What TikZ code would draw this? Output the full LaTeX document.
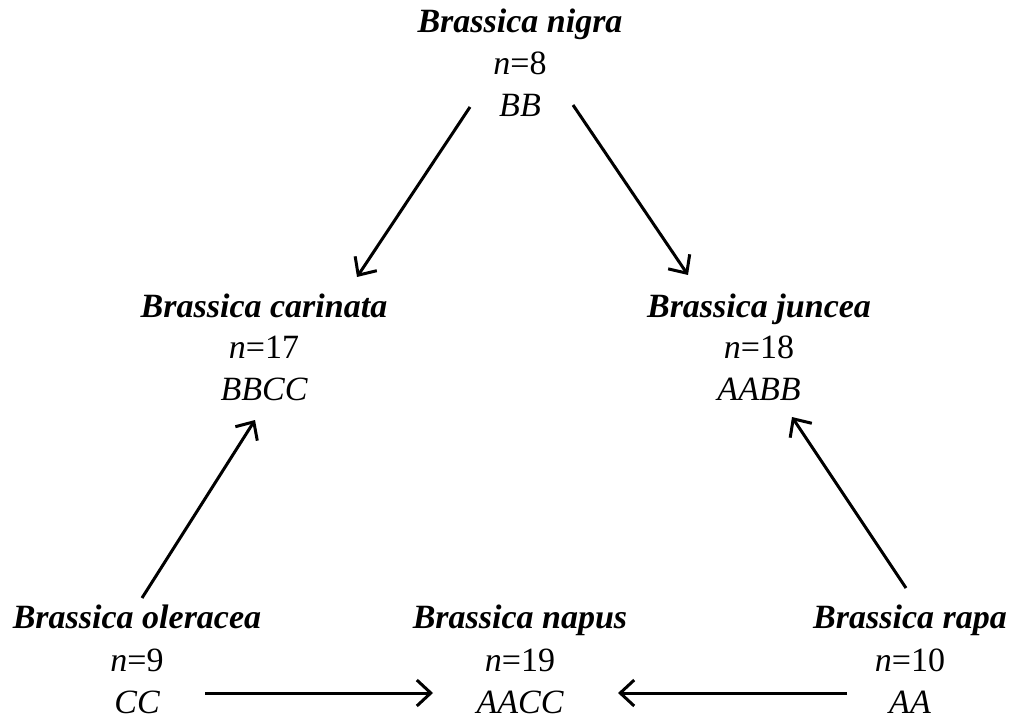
\documentclass[tikz,border=0pt]{standalone}
\usepackage{fontspec}
\setmainfont{Liberation Serif}
\usetikzlibrary{arrows.meta}
\tikzset{
  lbl/.style={inner sep=0pt, anchor=base, font=\fontsize{17}{20}\selectfont},
  ttl/.style={lbl, font=\fontsize{17}{20}\selectfont\bfseries\itshape},
  gen/.style={lbl, font=\fontsize{17}{20}\selectfont\itshape},
  arr/.style={line width=1.5pt, -{Straight Barb[length=7pt,width=13pt,line width=1.5pt]}}
}
\begin{document}
\begin{tikzpicture}[x=0.5pt,y=-0.5pt]
\useasboundingbox (0,0) rectangle (1015,721);
% top
\node[ttl] (nigra) at (520,33) {Brassica nigra};
\node[lbl] (nigraN) at (520,75) {\textit{n}=8};
\node[gen] (nigraG) at (520,117) {BB};
% middle
\node[ttl] (carinata) at (264,317) {Brassica carinata};
\node[lbl] (carinataN) at (264,358) {\textit{n}=17};
\node[gen] (carinataG) at (264,400) {BBCC};
\node[ttl] (juncea) at (759,317) {Brassica juncea};
\node[lbl] (junceaN) at (759,358) {\textit{n}=18};
\node[gen] (junceaG) at (759,400) {AABB};
% bottom
\node[ttl] (oleracea) at (137,628) {Brassica oleracea};
\node[lbl] (oleraceaN) at (137,671) {\textit{n}=9};
\node[gen] (oleraceaG) at (137,713) {CC};
\node[ttl] (napus) at (520,628) {Brassica napus};
\node[lbl] (napusN) at (520,671) {\textit{n}=19};
\node[gen] (napusG) at (520,713) {AACC};
\node[ttl] (rapa) at (910,628) {Brassica rapa};
\node[lbl] (rapaN) at (910,671) {\textit{n}=10};
\node[gen] (rapaG) at (910,713) {AA};
% arrows
\draw[arr] ([shift={(-50,-10)}]nigraG.base) -- ([shift={(93,-40)}]carinata.base);
\draw[arr] ([shift={(53,-12)}]nigraG.base) -- ([shift={(-71,-42)}]juncea.base);
\draw[arr] ([shift={(5,-30)}]oleracea.base) -- ([shift={(-9,20)}]carinataG.base);
\draw[arr] ([shift={(-4,-40)}]rapa.base) -- ([shift={(33,17)}]junceaG.base);
\draw[arr] ([shift={(68,-20)}]oleraceaG.base) -- ([shift={(-87,-20)}]napusG.base);
\draw[arr] ([shift={(-63,-20)}]rapaG.base) -- ([shift={(98,-20)}]napusG.base);
\end{tikzpicture}
\end{document}
